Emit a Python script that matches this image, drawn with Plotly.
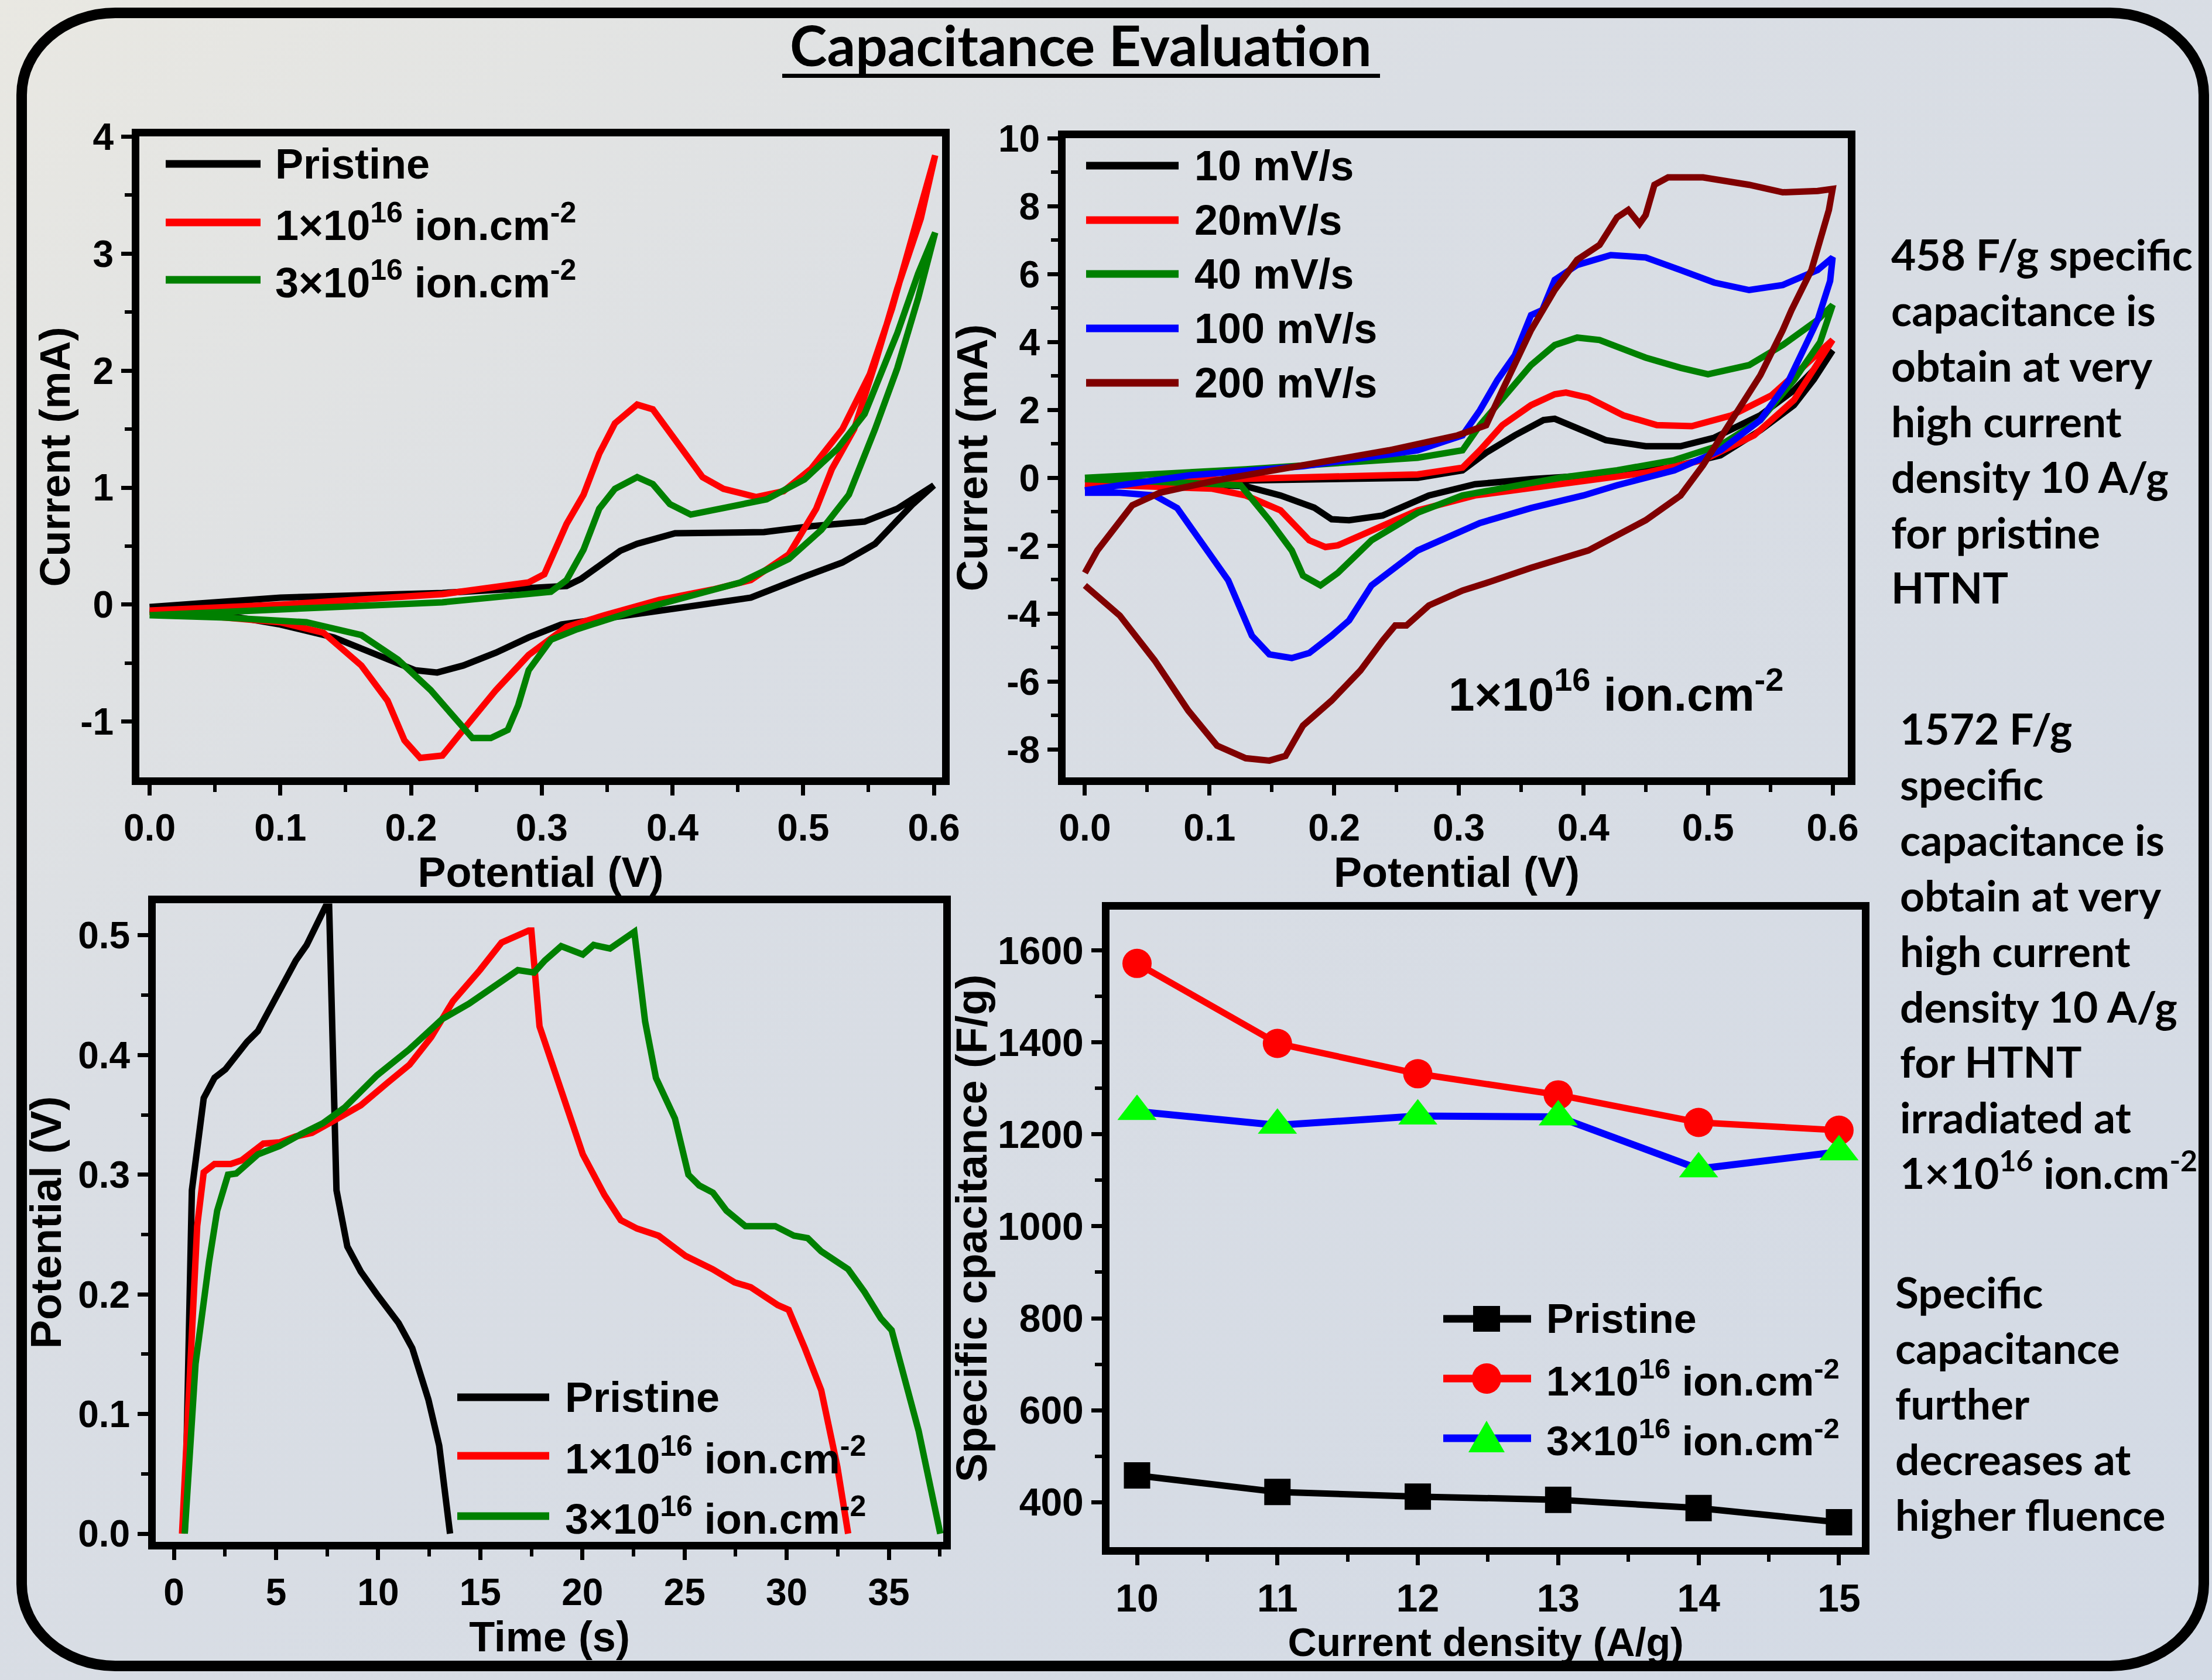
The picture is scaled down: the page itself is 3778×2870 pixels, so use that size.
import base64
import plotly.graph_objects as go

W, H = 3778, 2870
SANS = "Liberation Sans, Arial, Helvetica, sans-serif"
CAL = "Lato, Open Sans, sans-serif"

# ---------------- data ----------------
# Top-left: CV of the three samples
cv_pris_vf = [0, 0.1, 0.224, 0.3, 0.319, 0.33, 0.348, 0.36, 0.373, 0.402, 0.47, 0.506, 0.547, 0.572, 0.6]
cv_pris_if = [-0.02, 0.06, 0.10, 0.15, 0.16, 0.22, 0.36, 0.46, 0.52, 0.61, 0.62, 0.67, 0.71, 0.82, 1.02]
cv_pris_vr = [0.584, 0.555, 0.53, 0.501, 0.46, 0.41, 0.348, 0.315, 0.29, 0.265, 0.24, 0.22, 0.203, 0.174, 0.141, 0.10, 0.058, 0]
cv_pris_ir = [0.86, 0.52, 0.36, 0.24, 0.06, -0.02, -0.11, -0.17, -0.28, -0.41, -0.52, -0.58, -0.56, -0.43, -0.28, -0.17, -0.09, -0.04]

cv_1e16_vf = [0, 0.1, 0.224, 0.29, 0.302, 0.31, 0.319, 0.332, 0.344, 0.356, 0.373, 0.385, 0.402, 0.423, 0.439, 0.464, 0.485, 0.506, 0.53, 0.551, 0.568, 0.584, 0.601]
cv_1e16_if = [-0.05, 0.0, 0.09, 0.19, 0.26, 0.47, 0.69, 0.94, 1.29, 1.55, 1.71, 1.67, 1.42, 1.09, 0.99, 0.92, 0.97, 1.16, 1.50, 1.97, 2.53, 3.18, 3.84]
cv_1e16_vr = [0.59, 0.572, 0.555, 0.539, 0.522, 0.51, 0.489, 0.46, 0.431, 0.39, 0.348, 0.319, 0.29, 0.265, 0.24, 0.224, 0.207, 0.195, 0.182, 0.162, 0.133, 0.1, 0.058, 0]
cv_1e16_ir = [3.3, 2.7, 2.06, 1.5, 1.16, 0.82, 0.43, 0.21, 0.13, 0.04, -0.09, -0.19, -0.43, -0.73, -1.07, -1.29, -1.31, -1.16, -0.82, -0.52, -0.24, -0.15, -0.11, -0.06]

cv_3e16_vf = [0, 0.1, 0.224, 0.307, 0.319, 0.332, 0.344, 0.356, 0.373, 0.385, 0.398, 0.414, 0.439, 0.472, 0.501, 0.526, 0.547, 0.572, 0.588, 0.601]
cv_3e16_if = [-0.09, -0.04, 0.02, 0.11, 0.21, 0.47, 0.82, 0.99, 1.09, 1.03, 0.86, 0.77, 0.82, 0.9, 1.07, 1.33, 1.63, 2.32, 2.83, 3.18]
cv_3e16_vr = [0.588, 0.572, 0.555, 0.535, 0.514, 0.489, 0.452, 0.41, 0.369, 0.327, 0.307, 0.29, 0.282, 0.274, 0.261, 0.247, 0.232, 0.215, 0.19, 0.162, 0.12, 0.058, 0]
cv_3e16_ir = [2.62, 2.02, 1.5, 0.94, 0.64, 0.39, 0.19, 0.06, -0.06, -0.21, -0.30, -0.56, -0.86, -1.07, -1.14, -1.14, -0.94, -0.73, -0.47, -0.26, -0.15, -0.11, -0.09]

# Top-right: CV of 1e16 sample at different scan rates
sr10_vf = [0, 0.129, 0.267, 0.303, 0.322, 0.345, 0.368, 0.377, 0.395, 0.418, 0.45, 0.478, 0.505, 0.542, 0.569, 0.6]
sr10_if = [-0.15, -0.07, 0.0, 0.22, 0.74, 1.25, 1.70, 1.74, 1.47, 1.11, 0.93, 0.93, 1.18, 1.84, 2.58, 3.75]
sr10_vr = [0.585, 0.569, 0.542, 0.51, 0.468, 0.404, 0.358, 0.313, 0.276, 0.239, 0.212, 0.198, 0.184, 0.157, 0.129, 0.083, 0]
sr10_ir = [2.9, 2.14, 1.4, 0.66, 0.29, 0.07, -0.04, -0.19, -0.52, -1.11, -1.25, -1.22, -0.88, -0.52, -0.25, -0.18, -0.15]

sr20_vf = [0, 0.129, 0.267, 0.303, 0.317, 0.335, 0.358, 0.377, 0.386, 0.404, 0.432, 0.459, 0.487, 0.519, 0.551, 0.578, 0.6]
sr20_if = [-0.15, -0.04, 0.1, 0.3, 0.81, 1.55, 2.14, 2.46, 2.51, 2.36, 1.84, 1.55, 1.52, 1.84, 2.43, 3.32, 4.06]
sr20_vr = [0.585, 0.569, 0.537, 0.496, 0.45, 0.404, 0.358, 0.313, 0.267, 0.23, 0.203, 0.193, 0.18, 0.157, 0.129, 0.102, 0.038, 0]
sr20_ir = [3.2, 2.29, 1.25, 0.52, 0.15, -0.07, -0.3, -0.52, -0.96, -1.55, -1.99, -2.04, -1.84, -0.96, -0.52, -0.32, -0.22, -0.19]

sr40_vf = [0, 0.129, 0.267, 0.303, 0.317, 0.34, 0.358, 0.377, 0.395, 0.413, 0.45, 0.478, 0.5, 0.533, 0.56, 0.588, 0.6]
sr40_if = [0.0, 0.25, 0.59, 0.81, 1.55, 2.58, 3.32, 3.91, 4.13, 4.06, 3.54, 3.24, 3.05, 3.32, 3.91, 4.65, 5.09]
sr40_vr = [0.59, 0.569, 0.542, 0.51, 0.473, 0.427, 0.381, 0.335, 0.303, 0.267, 0.23, 0.203, 0.189, 0.175, 0.166, 0.148, 0.134, 0.125, 0.083, 0.038, 0]
sr40_ir = [4.0, 2.88, 1.70, 0.96, 0.52, 0.22, 0.0, -0.3, -0.52, -1.03, -1.84, -2.8, -3.17, -2.88, -2.14, -1.25, -0.66, -0.22, -0.15, -0.07, -0.04]

sr100_vf = [0, 0.083, 0.175, 0.267, 0.303, 0.317, 0.331, 0.345, 0.358, 0.367, 0.377, 0.395, 0.422, 0.45, 0.478, 0.505, 0.533, 0.56, 0.588, 0.6]
sr100_if = [-0.37, 0.07, 0.34, 0.81, 1.25, 1.99, 2.88, 3.61, 4.79, 4.94, 5.83, 6.27, 6.56, 6.49, 6.12, 5.75, 5.53, 5.68, 6.12, 6.49]
sr100_vr = [0.598, 0.588, 0.565, 0.542, 0.51, 0.473, 0.427, 0.4, 0.358, 0.317, 0.267, 0.23, 0.212, 0.198, 0.18, 0.166, 0.148, 0.134, 0.115, 0.093, 0.074, 0.056, 0.028, 0]
sr100_ir = [5.8, 4.65, 2.88, 1.70, 0.81, 0.22, -0.22, -0.52, -0.89, -1.33, -2.14, -3.17, -4.2, -4.65, -5.16, -5.31, -5.2, -4.65, -3.02, -1.84, -0.89, -0.52, -0.44, -0.44]

sr200_vf = [0, 0.01, 0.038, 0.06, 0.106, 0.175, 0.244, 0.299, 0.322, 0.335, 0.358, 0.377, 0.395, 0.413, 0.427, 0.436, 0.445, 0.45, 0.457, 0.468, 0.496, 0.533, 0.56, 0.588, 0.6]
sr200_if = [-2.8, -2.14, -0.81, -0.44, -0.07, 0.37, 0.81, 1.25, 1.55, 2.58, 4.35, 5.53, 6.42, 6.86, 7.67, 7.89, 7.48, 7.74, 8.63, 8.85, 8.85, 8.63, 8.41, 8.45, 8.51]
sr200_vr = [0.597, 0.583, 0.567, 0.56, 0.542, 0.519, 0.496, 0.478, 0.45, 0.404, 0.358, 0.322, 0.303, 0.276, 0.258, 0.249, 0.239, 0.221, 0.198, 0.175, 0.161, 0.148, 0.129, 0.106, 0.083, 0.056, 0.028, 0]
sr200_ir = [7.89, 6.12, 4.94, 4.35, 3.02, 1.70, 0.37, -0.52, -1.25, -2.14, -2.65, -3.10, -3.32, -3.76, -4.35, -4.35, -4.79, -5.68, -6.56, -7.30, -8.19, -8.33, -8.26, -7.89, -6.86, -5.38, -4.06, -3.17]

# Bottom-left: galvanostatic charge-discharge
gcd_pris_t = [0.53, 0.88, 1.46, 1.99, 2.52, 3.58, 4.11, 4.9, 5.44, 5.97, 6.5, 7.42, 7.6, 7.96, 8.49, 9.15, 9.94, 11.0, 11.67, 11.93, 12.46, 12.99, 13.52]
gcd_pris_v = [0, 0.287, 0.364, 0.381, 0.388, 0.411, 0.42, 0.445, 0.462, 0.479, 0.492, 0.524, 0.524, 0.287, 0.240, 0.219, 0.2, 0.176, 0.155, 0.142, 0.112, 0.0735, 0]

gcd_1e16_t = [0.4, 1.14, 1.46, 1.99, 2.78, 3.31, 4.38, 5.17, 5.97, 6.76, 7.82, 9.15, 10.47, 11.54, 12.6, 13.66, 14.98, 16.04, 17.37, 17.5, 17.9, 18.43, 19.23, 20.02, 21.08, 21.88, 22.67, 23.73, 25.06, 26.38, 27.45, 28.24, 29.57, 30.1, 30.89, 31.69, 32.48, 33.01]
gcd_1e16_v = [0, 0.257, 0.302, 0.309, 0.309, 0.312, 0.326, 0.327, 0.332, 0.335, 0.345, 0.358, 0.377, 0.392, 0.415, 0.445, 0.471, 0.494, 0.504, 0.504, 0.424, 0.398, 0.356, 0.317, 0.283, 0.262, 0.255, 0.249, 0.232, 0.221, 0.21, 0.206, 0.191, 0.187, 0.155, 0.12, 0.056, 0]

gcd_3e16_t = [0.53, 1.06, 1.72, 2.12, 2.65, 3.05, 4.11, 5.17, 6.23, 7.29, 8.35, 9.94, 11.54, 13.13, 14.45, 15.51, 16.84, 17.63, 18.16, 18.96, 20.02, 20.55, 21.35, 22.54, 23.07, 23.6, 24.13, 24.53, 25.19, 25.72, 26.39, 27.05, 27.98, 29.44, 30.36, 31.03, 31.69, 33.01, 33.81, 34.61, 35.14, 35.93, 36.46, 37.52]
gcd_3e16_v = [0, 0.142, 0.227, 0.27, 0.3, 0.301, 0.317, 0.324, 0.334, 0.343, 0.356, 0.383, 0.405, 0.43, 0.443, 0.456, 0.471, 0.469, 0.479, 0.491, 0.484, 0.492, 0.489, 0.503, 0.428, 0.381, 0.36, 0.347, 0.3, 0.291, 0.285, 0.27, 0.257, 0.257, 0.249, 0.247, 0.236, 0.221, 0.202, 0.18, 0.17, 0.12, 0.086, 0]

# Bottom-right: specific capacitance vs current density
current_density = [10, 11, 12, 13, 14, 15]
sc_pristine = [458, 422, 412, 405, 387, 356]
sc_1e16 = [1572, 1398, 1332, 1286, 1226, 1209]
sc_3e16 = [1250, 1220, 1240, 1238, 1125, 1162]

# tick labels
tl_y_vals = [-1, 0, 1, 2, 3, 4]
tl_y_text = ["-1", "0", "1", "2", "3", "4"]
tr_y_vals = [-8, -6, -4, -2, 0, 2, 4, 6, 8, 10]
tr_y_text = ["-8", "-6", "-4", "-2", "0", "2", "4", "6", "8", "10"]

LEG_RATES = ["10 mV/s", "20mV/s", "40 mV/s", "100 mV/s", "200 mV/s"]

BLACK, RED, GREEN, BLUE, MAROON, LIME = "#000000", "#FF0000", "#008000", "#0000FF", "#800000", "#00FF00"
LW = 11


def sup(s, size):
    # superscript with an explicit font size
    return (f'<span style="font-size:{round(size * 0.7)}px;'
            f'baseline-shift:{round(size * 0.42)}px">{s}</span>')


def fluence(n, size):
    return f"{n}×10{sup('16', size)} ion.cm{sup('-2', size)}"


def sample_labels(size):
    return ["Pristine", fluence(1, size), fluence(3, size)]


def fx(px):
    return px / W


def fy(py):
    return 1 - py / H


fig = go.Figure()


def loop(vf, i_f, vr, ir, color, name, xa, ya, width=LW):
    fig.add_trace(go.Scatter(x=vf + vr, y=i_f + ir, mode="lines", name=name,
                             line=dict(color=color, width=width), xaxis=xa, yaxis=ya,
                             showlegend=False))


loop(cv_pris_vf, cv_pris_if, cv_pris_vr, cv_pris_ir, BLACK, "Pristine", "x", "y")
loop(cv_1e16_vf, cv_1e16_if, cv_1e16_vr, cv_1e16_ir, RED, "1e16", "x", "y")
loop(cv_3e16_vf, cv_3e16_if, cv_3e16_vr, cv_3e16_ir, GREEN, "3e16", "x", "y")

loop(sr10_vf, sr10_if, sr10_vr, sr10_ir, BLACK, "10 mV/s", "x2", "y2")
loop(sr20_vf, sr20_if, sr20_vr, sr20_ir, RED, "20 mV/s", "x2", "y2")
loop(sr40_vf, sr40_if, sr40_vr, sr40_ir, GREEN, "40 mV/s", "x2", "y2")
loop(sr100_vf, sr100_if, sr100_vr, sr100_ir, BLUE, "100 mV/s", "x2", "y2")
loop(sr200_vf, sr200_if, sr200_vr, sr200_ir, MAROON, "200 mV/s", "x2", "y2")

for t, v, c, n in [(gcd_pris_t, gcd_pris_v, BLACK, "Pristine"),
                   (gcd_1e16_t, gcd_1e16_v, RED, "1e16"),
                   (gcd_3e16_t, gcd_3e16_v, GREEN, "3e16")]:
    fig.add_trace(go.Scatter(x=t, y=v, mode="lines", name=n, line=dict(color=c, width=LW),
                             xaxis="x3", yaxis="y3", showlegend=False))

fig.add_trace(go.Scatter(x=current_density, y=sc_pristine, mode="lines+markers", name="Pristine",
                         line=dict(color=BLACK, width=LW),
                         marker=dict(symbol="square", size=45, color=BLACK),
                         xaxis="x4", yaxis="y4", showlegend=False))
fig.add_trace(go.Scatter(x=current_density, y=sc_1e16, mode="lines+markers", name="1e16",
                         line=dict(color=RED, width=LW),
                         marker=dict(symbol="circle", size=50, color=RED),
                         xaxis="x4", yaxis="y4", showlegend=False))
fig.add_trace(go.Scatter(x=current_density, y=sc_3e16, mode="lines+markers", name="3e16",
                         line=dict(color=BLUE, width=12),
                         marker=dict(symbol="triangle-up", size=58, color=LIME),
                         xaxis="x4", yaxis="y4", showlegend=False))


def axis(dom, rng, anchor, tsize, title, tisize, standoff, dtick=None, mdtick=None,
         tickformat=None, tickvals=None, ticktext=None):
    d = dict(domain=dom, range=rng, anchor=anchor, showgrid=False, zeroline=False,
             showline=True, mirror=True, linewidth=13, linecolor="black",
             ticks="outside", ticklen=18, tickwidth=7, tickcolor="black",
             tickfont=dict(family=SANS, size=tsize, color="black", weight="bold"),
             minor=dict(ticks="outside", ticklen=12, tickwidth=6, tickcolor="black",
                        tickmode="linear", tick0=0, dtick=mdtick, showgrid=False),
             title=dict(text=title, standoff=standoff,
                        font=dict(family=SANS, size=tisize, color="black", weight="bold")),
             automargin=False)
    if tickvals is not None:
        d.update(tickmode="array", tickvals=tickvals, ticktext=ticktext)
    else:
        d.update(tickmode="linear", tick0=0, dtick=dtick)
    if tickformat:
        d["tickformat"] = tickformat
    return d


layout_axes = dict(
    xaxis=axis([fx(238), fx(1609)], [-0.00784, 0.60627], "y", 64, "Potential (V)", 72, 0,
               dtick=0.1, mdtick=0.05, tickformat=".1f"),
    yaxis=axis([fy(1328), fy(233)], [-1.476, 4.002], "x", 64, "Current (mA)", 72, 0,
               mdtick=0.5, tickvals=tl_y_vals, ticktext=tl_y_text),
    xaxis2=axis([fx(1820), fx(3156)], [-0.0155, 0.6122], "y2", 64, "Potential (V)", 72, 0,
                dtick=0.1, mdtick=0.05, tickformat=".1f"),
    yaxis2=axis([fy(1328), fy(236)], [-8.824, 10.005], "x2", 64, "Current (mA)", 74, 0,
                mdtick=1, tickvals=tr_y_vals, ticktext=tr_y_text),
    xaxis3=axis([fx(266), fx(1611)], [-0.889, 37.665], "y3", 64, "Time (s)", 72, 12,
                dtick=5, mdtick=2.5),
    yaxis3=axis([fy(2634), fy(1543)], [-0.00685, 0.5269], "x3", 64, "Potential (V)", 74, 10,
                dtick=0.1, mdtick=0.05, tickformat=".1f"),
    xaxis4=axis([fx(1895), fx(3180)], [9.804, 15.163], "y4", 66, "Current density (A/g)", 68, 0,
                dtick=1, mdtick=0.5),
    yaxis4=axis([fy(2643), fy(1554)], [302, 1689], "x4", 66, "Specific cpacitance (F/g)", 74, 0,
                dtick=200, mdtick=100),
)

# ---------- background gradient (decoration) ----------
svg = (f'<svg xmlns="http://www.w3.org/2000/svg" width="{W}" height="{H}" viewBox="0 0 {W} {H}">'
       '<defs><linearGradient id="g" x1="0" y1="0" x2="1" y2="1">'
       '<stop offset="0" stop-color="#E9E8E2"/><stop offset="0.35" stop-color="#DADEE4"/>'
       '<stop offset="1" stop-color="#D3DAE5"/></linearGradient></defs>'
       '<rect width="100%" height="100%" fill="url(#g)"/></svg>')
bg_src = "data:image/svg+xml;base64," + base64.b64encode(svg.encode()).decode()

shapes = []
# rounded outer border
L, R, T, B, rx, ry, k = 37, 3764, 22, 2846, 160, 140, 0.5523
pts = lambda x, y: f"{fx(x):.5f},{fy(y):.5f}"
path = (f"M {pts(L + rx, T)} L {pts(R - rx, T)} "
        f"C {pts(R - rx + k * rx, T)} {pts(R, T + ry - k * ry)} {pts(R, T + ry)} "
        f"L {pts(R, B - ry)} "
        f"C {pts(R, B - ry + k * ry)} {pts(R - rx + k * rx, B)} {pts(R - rx, B)} "
        f"L {pts(L + rx, B)} "
        f"C {pts(L + rx - k * rx, B)} {pts(L, B - ry + k * ry)} {pts(L, B - ry)} "
        f"L {pts(L, T + ry)} "
        f"C {pts(L, T + ry - k * ry)} {pts(L + rx - k * rx, T)} {pts(L + rx, T)} Z")
shapes.append(dict(type="path", xref="paper", yref="paper", path=path,
                   line=dict(color="black", width=18), fillcolor="rgba(0,0,0,0)", layer="above"))
# title underline
shapes.append(dict(type="line", xref="paper", yref="paper", x0=fx(1336), x1=fx(2357),
                   y0=fy(129.5), y1=fy(129.5), line=dict(color="black", width=7)))

annotations = []


def text(x, y, s, size, family=SANS, xanchor="left", align="left"):
    annotations.append(dict(x=fx(x), y=fy(y), xref="paper", yref="paper", text=s, showarrow=False,
                            xanchor=xanchor, yanchor="middle", align=align,
                            font=dict(family=family, size=size, color="black", weight="bold")))


def legend(rows, x0, x1, xt, colors, labels, size=72):
    for r, c, lab in zip(rows, colors, labels):
        shapes.append(dict(type="line", xref="paper", yref="paper", x0=fx(x0), x1=fx(x1),
                           y0=fy(r), y1=fy(r), line=dict(color=c, width=13)))
        text(xt, r, lab, size)


legend([280, 380, 478], 283, 445, 468, [BLACK, RED, GREEN], sample_labels(72))
legend([283, 376, 468, 561, 654], 1855, 2013, 2038, [BLACK, RED, GREEN, BLUE, MAROON], LEG_RATES)
legend([2387, 2487, 2590], 781, 938, 963, [BLACK, RED, GREEN], sample_labels(72))
legend([2253, 2355, 2457], 2465, 2615, 2639, [BLACK, RED, BLUE], sample_labels(70), size=70)

# legend markers for bottom-right panel
mx = fx(2539)
shapes.append(dict(type="rect", xref="paper", yref="paper", xsizemode="pixel", ysizemode="pixel",
                   xanchor=mx, yanchor=fy(2253), x0=-23, x1=23, y0=-22, y1=22,
                   fillcolor=BLACK, line=dict(width=0)))
shapes.append(dict(type="circle", xref="paper", yref="paper", xsizemode="pixel", ysizemode="pixel",
                   xanchor=mx, yanchor=fy(2355), x0=-25, x1=25, y0=-26, y1=26,
                   fillcolor=RED, line=dict(width=0)))
shapes.append(dict(type="path", xref="paper", yref="paper", xsizemode="pixel", ysizemode="pixel",
                   xanchor=mx, yanchor=fy(2457), path="M -31,-24 L 31,-24 L 0,30 Z",
                   fillcolor=LIME, line=dict(width=0)))

# title
text(1846, 76, "Capacitance Evaluation", 96, family=CAL, xanchor="center", align="center")
# inscription in top-right panel
text(2760, 1180, fluence(1, 80), 80, xanchor="center", align="center")

# side notes
note1 = ["458 F/g specific", "capacitance is", "obtain at very", "high current",
         "density 10 A/g", "for pristine", "HTNT"]
note2 = ["1572 F/g", "specific", "capacitance is", "obtain at very", "high current",
         "density 10 A/g", "for HTNT", "irradiated at", fluence(1, 72)]
note3 = ["Specific", "capacitance", "further", "decreases at", "higher fluence"]
NOTE = 73
text(3228, 718, "<br>".join(note1), NOTE, family=CAL)
text(3243, 1624, "<br>".join(note2), NOTE, family=CAL)
text(3235, 2397, "<br>".join(note3), NOTE, family=CAL)

fig.update_layout(
    width=W, height=H, autosize=False,
    margin=dict(l=0, r=0, t=0, b=0, pad=0),
    paper_bgcolor="#D8DDE5", plot_bgcolor="rgba(0,0,0,0)",
    showlegend=False,
    images=[dict(source=bg_src, xref="paper", yref="paper", x=0, y=1, sizex=1, sizey=1,
                 xanchor="left", yanchor="top", sizing="stretch", layer="below")],
    shapes=shapes, annotations=annotations,
    **layout_axes,
)

fig.write_html("out.html", include_plotlyjs=True, config={"displayModeBar": False},
               post_script="document.body.style.margin='0px';document.body.style.overflow='hidden';")
